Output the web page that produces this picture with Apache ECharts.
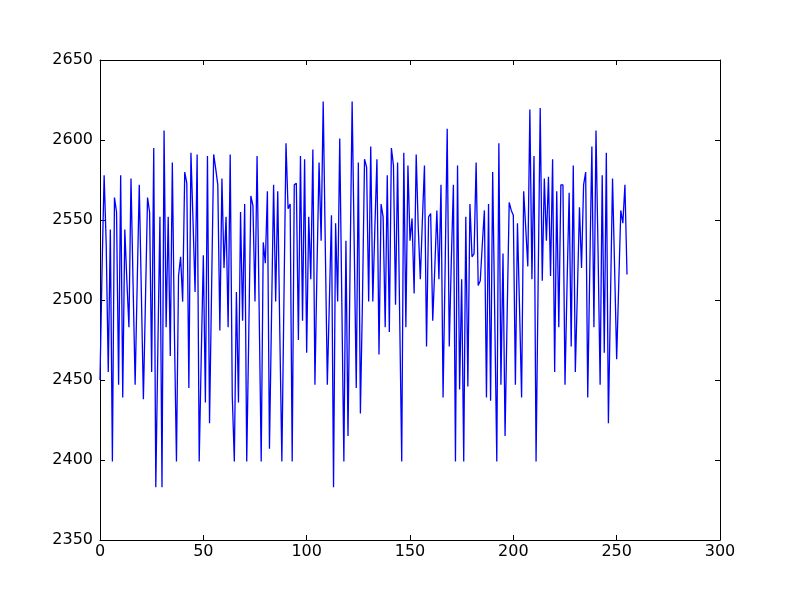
<!DOCTYPE html>
<html>
<head>
<meta charset="utf-8">
<script src="https://cdn.jsdelivr.net/npm/echarts@6/dist/echarts.min.js"></script>
<style>html,body{margin:0;padding:0;background:#fff;}#c{width:800px;height:600px;}</style>
</head>
<body>
<div id="c"></div>
<script>
var xTicks = [0, 50, 100, 150, 200, 250, 300];
var yTicks = [2350, 2400, 2450, 2500, 2550, 2600, 2650];
var values = [
2450,2520,2578,2535,2455,2544,2399,2564,2555,2447,
2578,2439,2544,2512,2483,2576,2510,2447,2510,2572,
2505,2438,2500,2564,2555,2455,2595,2383,2470,2552,
2383,2606,2483,2552,2465,2586,2480,2399,2515,2527,
2499,2580,2573,2445,2592,2550,2505,2591,2399,2465,
2528,2436,2590,2423,2507,2591,2582,2572,2481,2576,
2520,2552,2483,2591,2440,2399,2505,2436,2555,2487,
2560,2399,2480,2565,2559,2499,2590,2495,2399,2536,
2523,2568,2407,2490,2572,2499,2568,2480,2399,2500,
2598,2557,2560,2399,2572,2573,2475,2590,2487,2588,
2467,2552,2513,2594,2447,2520,2586,2537,2624,2535,
2447,2500,2553,2383,2548,2499,2601,2500,2399,2537,
2415,2520,2624,2535,2445,2586,2429,2500,2588,2583,
2499,2596,2499,2545,2588,2466,2560,2552,2483,2578,
2480,2595,2584,2497,2586,2490,2399,2592,2483,2584,
2537,2551,2504,2591,2545,2513,2550,2584,2471,2552,
2554,2487,2520,2556,2513,2572,2439,2520,2607,2471,
2525,2572,2399,2584,2444,2513,2399,2552,2446,2560,
2527,2529,2586,2509,2512,2535,2556,2439,2560,2437,
2580,2490,2399,2598,2447,2529,2415,2490,2561,2556,
2553,2447,2548,2495,2439,2568,2545,2521,2619,2513,
2590,2399,2510,2620,2512,2576,2537,2577,2515,2588,
2455,2568,2483,2572,2572,2447,2510,2567,2471,2584,
2455,2505,2558,2520,2572,2580,2439,2520,2596,2483,
2606,2530,2447,2578,2467,2592,2423,2500,2576,2520,
2463,2510,2556,2548,2572,2516
];
var seriesData = values.map(function (v, i) { return [i, v]; });

var chart = echarts.init(document.getElementById('c'), null, {renderer: 'canvas'});
var font = {color: '#000', fontFamily: 'DejaVu Sans', fontSize: 16};
var axLine = {show: true, onZero: false, lineStyle: {color: '#000', width: 1}};
var tick = {show: true, inside: true, length: 5, lineStyle: {color: '#000', width: 1}};
function plain(v) { return String(v); }
chart.setOption({
  animation: false,
  backgroundColor: '#fff',
  grid: {left: 100, right: 80, top: 60, bottom: 60, containLabel: false},
  xAxis: [
    {type: 'value', position: 'bottom', min: xTicks[0], max: xTicks[xTicks.length - 1], interval: 50,
     axisLine: axLine, axisTick: tick, splitLine: {show: false},
     axisLabel: Object.assign({margin: 4, formatter: plain}, font)},
    {type: 'value', position: 'top', min: xTicks[0], max: xTicks[xTicks.length - 1], interval: 50,
     axisLine: axLine, axisTick: tick, splitLine: {show: false}, axisLabel: {show: false}}
  ],
  yAxis: [
    {type: 'value', position: 'left', min: yTicks[0], max: yTicks[yTicks.length - 1], interval: 50,
     axisLine: axLine, axisTick: tick, splitLine: {show: false},
     axisLabel: Object.assign({margin: 7, formatter: plain}, font)},
    {type: 'value', position: 'right', min: yTicks[0], max: yTicks[yTicks.length - 1], interval: 50,
     axisLine: axLine, axisTick: tick, splitLine: {show: false}, axisLabel: {show: false}}
  ],
  series: [{
    type: 'line',
    data: seriesData,
    xAxisIndex: 0,
    yAxisIndex: 0,
    showSymbol: false,
    symbol: 'none',
    lineStyle: {color: '#0000ff', width: 1.3},
    itemStyle: {color: '#0000ff'}
  }]
});
</script>
</body>
</html>
